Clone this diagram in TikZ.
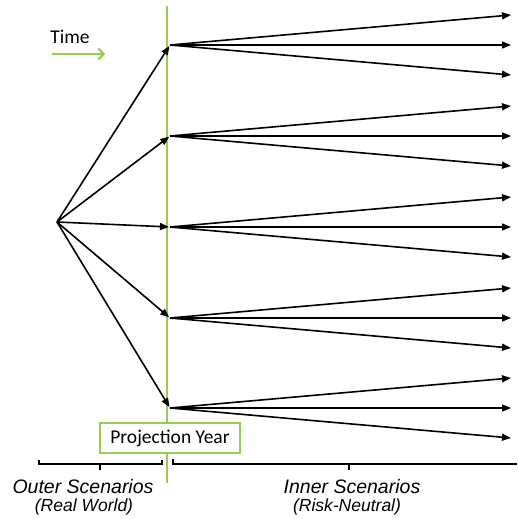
\documentclass[tikz,border=0pt]{standalone}
\usepackage{fontspec}
\setmainfont{Carlito}
\newfontfamily\labelfont{Liberation Sans}
\usepackage{tikz}
\usetikzlibrary{arrows.meta}
\definecolor{projgreen}{HTML}{92D050}

\begin{document}
\begin{tikzpicture}[x=1pt, y=-1pt, font=\fontsize{19.5}{22}\selectfont]
    \tikzstyle{branch}=[draw=black, line width=1.6pt, -{Triangle[length=9pt,width=7pt]}]
    \tikzstyle{trunk}=[branch, shorten >=1pt]
    \tikzstyle{bracket}=[draw=black, line width=1.6pt]
    \tikzstyle{scen}=[font=\labelfont\fontsize{19.5}{22}\selectfont\itshape, inner sep=0pt]
    \tikzstyle{world}=[font=\labelfont\fontsize{17.5}{20}\selectfont\itshape, inner sep=0pt]

    \useasboundingbox (0,0) rectangle (517,519);

    % projection year
    \coordinate (ytop) at (167,6);
    \coordinate (ybot) at (167,483);
    \draw[projgreen, line width=2.2pt] (ytop) -- (ybot);

    % time direction
    \node[inner sep=0pt] (time) at (70,37) {Time};
    \coordinate (tstart) at (52,54);
    \coordinate (tend) at (105,54);
    \draw[projgreen, line width=2.2pt, -{Straight Barb[length=5pt,width=11pt]}] (tstart) -- (tend);

    % scenario tree
    \coordinate (root) at (57,222);
    \foreach \i/\y in {1/45,2/136,3/227,4/318,5/408} {
        \coordinate (p\i) at (170,\y);
        \coordinate (p\i a) at (511,\y-30);
        \coordinate (p\i b) at (511,\y);
        \coordinate (p\i c) at (511,\y+30);
    }
    \foreach \i in {1,...,5} {
        \draw[trunk] (root) -- (p\i);
        \draw[branch] (p\i) -- (p\i a);
        \draw[branch] (p\i) -- (p\i b);
        \draw[branch] (p\i) -- (p\i c);
    }

    \node[draw=projgreen, line width=2.2pt, fill=white, minimum width=140pt,
          minimum height=30pt] (proj) at (170,438) {Projection Year};

    % brackets
    \draw[bracket] (39,460) -- (39,464) -- (162,464) -- (162,460)
                   (100,464) -- (100,470);
    \draw[bracket] (173,459) -- (173,464) -- (517,464)
                   (349,464) -- (349,470);

    \node[scen]  (outer) at (83,487)  {Outer Scenarios};
    \node[world] (real)  at (84,507)  {(Real World)};
    \node[scen]  (inner) at (352,487) {Inner Scenarios};
    \node[world] (risk)  at (347,507) {(Risk-Neutral)};
\end{tikzpicture}
\end{document}
